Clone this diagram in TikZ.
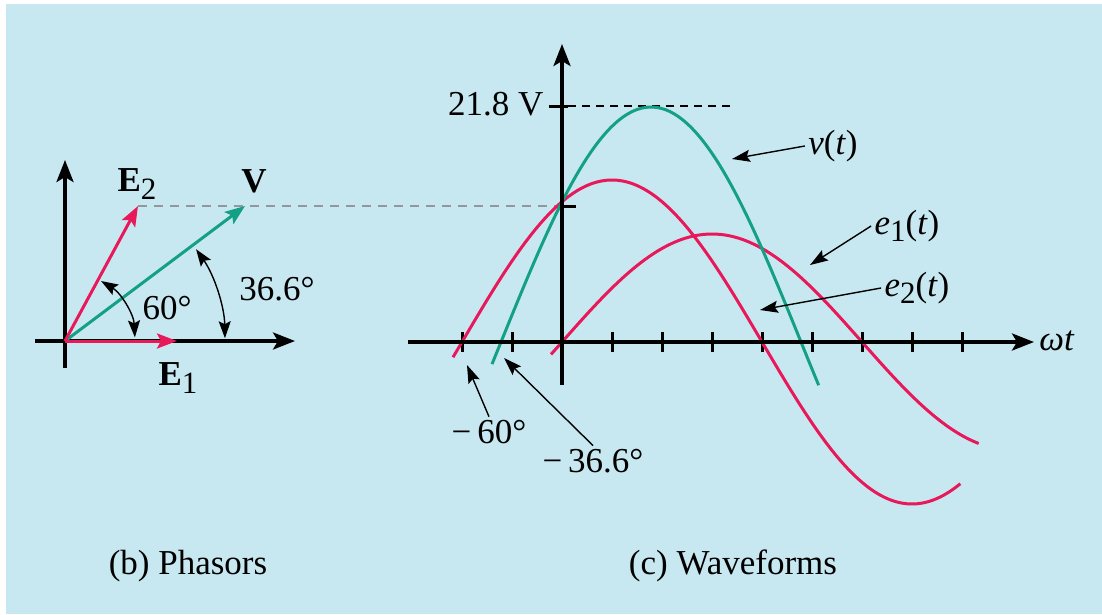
\documentclass[tikz,border=0pt]{standalone}
\usepackage{fontspec}
\setmainfont{Liberation Serif}[Ligatures=TeX]
\newfontfamily\tnr{Liberation Serif}
\usetikzlibrary{arrows.meta,calc}
\definecolor{fondo}{RGB}{200,232,241}
\definecolor{rojo}{RGB}{232,25,90}
\definecolor{verde}{RGB}{19,160,133}
\definecolor{gris}{RGB}{145,152,156}
\newcommand{\sub}[1]{\raisebox{-0.45ex}{\fontsize{31}{31}\selectfont #1}}

\begin{document}
\begin{tikzpicture}[x=1pt, y=-1pt, font=\tnr\fontsize{35}{40}\selectfont,
    eje/.style={line width=3.5pt, -{Stealth[length=22pt,width=17pt,inset=5pt]}},
    fasor/.style={line width=3pt, -{Stealth[length=20pt,width=15pt,inset=4pt]}},
    onda/.style={line width=3pt},
    marca/.style={line width=3pt},
    flecha/.style={line width=1.4pt, -{Stealth[length=18pt,width=12pt,inset=3pt]}},
    arco/.style={line width=1.4pt, {Stealth[length=17pt,width=12pt,inset=3pt]}-{Stealth[length=17pt,width=12pt,inset=3pt]}},
    guia/.style={line width=2pt, dash pattern=on 9pt off 7pt}]
  \useasboundingbox (0,0) rectangle (1102,614);
  \fill[fondo] (6,4) rectangle (1102,614);

  % phasors
  \coordinate (O) at (65,341);
  \coordinate (ox0) at (35,341);
  \coordinate (ox1) at (295,341);
  \coordinate (oy0) at (65,368);
  \coordinate (oy1) at (65,160);
  \coordinate (e1tip) at (177,341);
  \coordinate (e2tip) at (138,206);
  \coordinate (vtip) at (245,206);
  \draw[eje] (ox0) -- (ox1);
  \draw[eje] (oy0) -- (oy1);
  \draw[guia, gris] (e2tip) -- (562,206) coordinate (wy);
  \draw[fasor, verde] (O) -- (vtip);
  \draw[fasor, rojo] (O) -- (e2tip);
  \draw[fasor, rojo] (O) -- (e1tip);
  \draw[arco] ($(O)+(-59:70)$) arc[start angle=-59, end angle=-3, radius=70];
  \draw[arco] ($(O)+(-35:160)$) arc[start angle=-35, end angle=-1, radius=160];
  \node (lE2) at (137,184) {\textbf{E}\sub{2}};
  \node (lV) at (254,181) {\textbf{V}};
  \node (lE1) at (178,378) {\textbf{E}\sub{1}};
  \node (l60) at (167,308) {60°};
  \node (l366) at (277,289) {36.6°};
  \node (capb) at (188,566) {(b) Phasors};

  % waveforms
  \coordinate (W) at (562,342);
  \coordinate (wx0) at (408,342);
  \coordinate (wx1) at (1034,342);
  \coordinate (wy0) at (562,385);
  \coordinate (wy1) at (562,44);
  \foreach \i in {0,...,10} {
    \draw[marca] ({462+50*\i},332) -- ({462+50*\i},352);
  }
  \draw[marca] (557,206) -- (576,206);
  \draw[marca] (549,106) -- (568,106);
  \draw[guia, line width=1.5pt, dash pattern=on 8pt off 6pt] (568,106) -- (734,106);
  \draw[onda, rojo] plot[domain=-6.6:250, samples=90, smooth] ({562+\x*5/3},{342-108*sin(\x)});
  \draw[onda, rojo] plot[domain=-65.4:239, samples=100, smooth] ({562+\x*5/3},{342-162*sin(\x+60)});
  \draw[onda, verde] plot[domain=-42:154, samples=80, smooth] ({562+\x*5/3},{342-235*sin(\x+36.6)});
  \draw[eje] (wx0) -- (wx1);
  \draw[eje] (wy0) -- (wy1);
  \node (lwt) at (1057,341) {\textit{ωt}};
  \node[anchor=east] (l218) at (547,104) {21.8 V};

  \node (lv) at (833,146) {\textit{v}(\textit{t})};
  \node (le1) at (907,226) {\textit{e}\sub{1}(\textit{t})};
  \node (le2) at (917,288) {\textit{e}\sub{2}(\textit{t})};
  \node (lm60) at (489,432) {−\,60°};
  \node (lm366) at (593,461) {−\,36.6°};
  \coordinate (pv) at (732,159);
  \coordinate (pe1) at (810,265);
  \coordinate (pe2) at (760,310);
  \coordinate (pm60) at (467,365);
  \coordinate (pm366) at (504,358);
  \draw[flecha] (lv.west) -- (pv);
  \draw[flecha] (le1.west) -- (pe1);
  \draw[flecha] (le2.west) -- (pe2);
  \draw[flecha] (lm60.north) -- (pm60);
  \draw[flecha] (lm366.north) -- (pm366);
  \node (capc) at (733,566) {(c) Waveforms};
\end{tikzpicture}
\end{document}
